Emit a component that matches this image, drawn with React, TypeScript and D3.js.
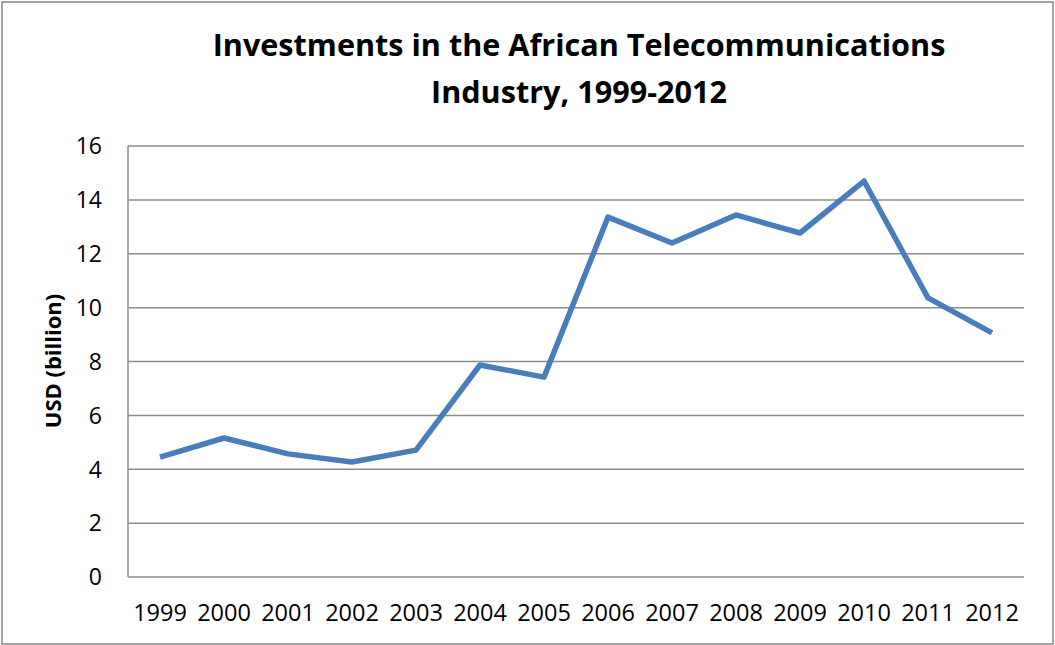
import * as d3 from "d3";

const years = ["1999", "2000", "2001", "2002", "2003", "2004", "2005", "2006", "2007", "2008", "2009", "2010", "2011", "2012"];
const investments = [4.45, 5.16, 4.57, 4.27, 4.71, 7.87, 7.42, 13.36, 12.4, 13.44, 12.77, 14.7, 10.36, 9.06];
const yTicks = [0, 2, 4, 6, 8, 10, 12, 14, 16];
const titleLines = ["Investments in the African Telecommunications", "Industry, 1999-2012"];

const W = 1055;
const H = 645;
const plot = { left: 128, right: 1024, top: 146, bottom: 577 };
const font = "'Open Sans', 'Noto Sans', sans-serif";

export default function App() {
  const x = d3.scaleBand<string>().domain(years).range([plot.left, plot.right]);
  const y = d3.scaleLinear().domain([0, 16]).range([plot.bottom, plot.top]);

  const line = d3
    .line<number>()
    .x((_, i) => (x(years[i]) ?? 0) + x.bandwidth() / 2)
    .y((d) => y(d));

  return (
    <svg
      width={W}
      height={H}
      style={{ position: "absolute", left: 0, top: 0 }}
      fontFamily={font}
    >
      <rect x={0} y={0} width={W} height={H} fill="#fff" />
      <rect x={2} y={2} width={W - 4} height={H - 3} fill="none" stroke="#868686" strokeWidth={1.5} />

      {titleLines.map((t, i) => (
        <text key={t} x={579} y={56 + i * 47} textAnchor="middle" fontSize={30.6} fontWeight="bold" fill="#000">
          {t}
        </text>
      ))}

      {yTicks.map((t) => (
        <g key={t}>
          {t > 0 && (
            <line x1={plot.left} x2={plot.right} y1={y(t)} y2={y(t)} stroke="#8c8c8c" strokeWidth={1.5} />
          )}
          <text x={102} y={y(t)} dy="0.36em" textAnchor="end" fontSize={23} fill="#000">
            {t}
          </text>
        </g>
      ))}

      <line x1={plot.left} x2={plot.left} y1={plot.top} y2={plot.bottom} stroke="#8c8c8c" strokeWidth={1.5} />
      <line x1={plot.left} x2={plot.right} y1={plot.bottom} y2={plot.bottom} stroke="#8c8c8c" strokeWidth={1.5} />

      {years.map((yr) => (
        <text key={yr} x={(x(yr) ?? 0) + x.bandwidth() / 2} y={621} textAnchor="middle" fontSize={23.5} fill="#000">
          {yr}
        </text>
      ))}

      <text
        transform={`translate(61,361) rotate(-90)`}
        textAnchor="middle"
        fontSize={22}
        fontWeight="bold"
        fill="#000"
      >
        USD (billion)
      </text>

      <path d={line(investments) ?? ""} fill="none" stroke="#4a7ebb" strokeWidth={5.5} strokeLinejoin="round" />
    </svg>
  );
}
